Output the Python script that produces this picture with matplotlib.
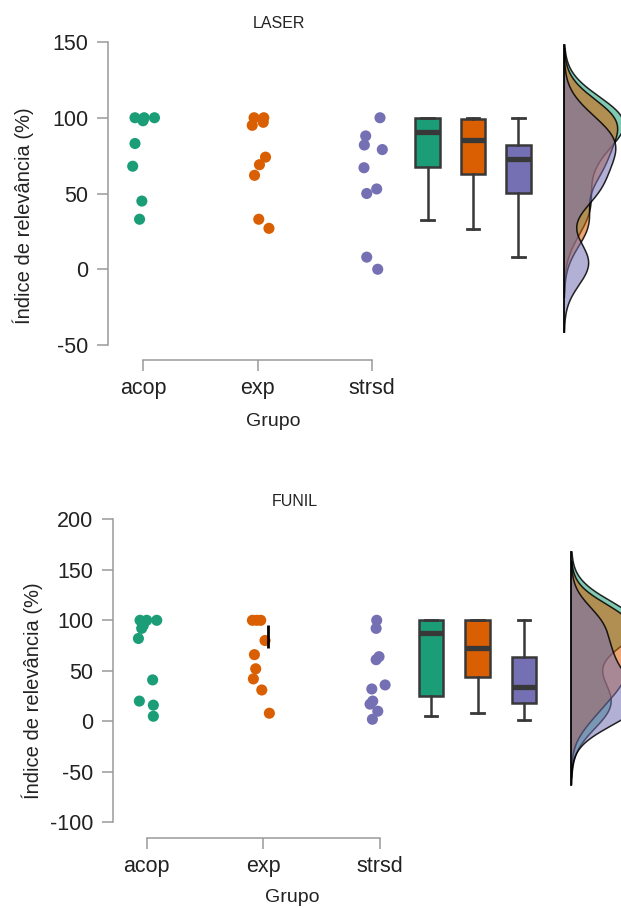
"""Raincloud-style charts (LASER / FUNIL) of relevance index per group."""

import numpy as np
import matplotlib

matplotlib.use("Agg")
import matplotlib.pyplot as plt

plt.rcParams["font.family"] = ["Liberation Sans", "DejaVu Sans"]

W, H = 621, 908
TEXT = "#222222"
SPINE = "#9a9a9a"
EDGE = "#383838"

GROUPS = ["acop", "exp", "strsd"]
COLORS = ["#1B9E77", "#D95F02", "#7570B3"]

# LASER: raw values per group
laser_acop = [100, 100, 100, 98, 83, 68, 45, 33]
laser_exp = [100, 100, 97, 95, 74, 69, 62, 33, 27]
laser_strsd = [100, 88, 82, 79, 67, 53, 50, 8, 0]
# horizontal jitter of each dot (category units)
laser_jit_acop = [-0.07, 0.01, 0.10, 0.00, -0.07, -0.09, -0.01, -0.03]
laser_jit_exp = [-0.03, 0.055, 0.05, -0.046, 0.07, 0.017, -0.026, 0.011, 0.10]
laser_jit_strsd = [0.07, -0.055, -0.067, 0.09, -0.07, 0.041, -0.046, -0.046, 0.05]
# LASER: box statistics
laser_lo = [32.4, 26.6, 8.1]
laser_q1 = [67.8, 63.0, 50.4]
laser_med = [90.6, 85.0, 73.0]
laser_q3 = [100.0, 99.5, 82.0]
laser_hi = [100.0, 100.0, 100.0]

# FUNIL: raw values per group
funil_acop = [100, 100, 100, 95, 92, 82, 41, 20, 16, 5]
funil_exp = [100, 100, 100, 80, 66, 52, 42, 31, 8]
funil_strsd = [100, 92, 64, 61, 36, 32, 20, 17, 10, 2]
funil_jit_acop = [-0.057, 0.0, 0.086, -0.029, -0.043, -0.071, 0.051, -0.063, 0.057, 0.057]
funil_jit_exp = [-0.094, -0.057, -0.023, 0.014, -0.077, -0.066, -0.086, -0.014, 0.051]
funil_jit_strsd = [-0.029, -0.034, -0.009, -0.034, 0.043, -0.071, -0.063, -0.086, -0.02, -0.066]
funil_lo = [5.2, 8.0, 1.3]
funil_q1 = [25.3, 44.2, 17.8]
funil_med = [87.7, 72.9, 34.3]
funil_q3 = [100.0, 100.0, 64.0]
funil_hi = [100.0, 100.0, 100.0]
# stray vertical mark next to the exp dots
funil_mark = (72.3, 95.4)


def kde(vals):
    """Gaussian density with R's nrd0 bandwidth, cut at 3 bandwidths."""
    v = np.asarray(vals, float)
    n = len(v)
    q75, q25 = np.percentile(v, [75, 25])
    bw = 0.9 * min(v.std(ddof=1), (q75 - q25) / 1.34) * n ** -0.2
    grid = np.linspace(v.min() - 3 * bw, v.max() + 3 * bw, 300)
    z = (grid[:, None] - v[None, :]) / bw
    dens = np.exp(-0.5 * z ** 2).sum(1) / (n * bw * np.sqrt(2 * np.pi))
    return grid, dens


def panel(rect, data, jit, stats, ylim, yticks, xlim, box_pos, box_w,
          dens_base, dens_w, x_off):
    ax = fig.add_axes(rect)
    ax.set_xlim(*xlim)
    ax.set_ylim(*ylim)

    # dots
    for i, (vals, jj) in enumerate(zip(data, jit)):
        ax.scatter(np.full(len(vals), i) + np.asarray(jj), vals, s=64,
                   color=COLORS[i], edgecolors="none", zorder=3, clip_on=False)

    # boxes
    lo, q1, med, q3, hi = stats
    bstats = [dict(whislo=lo[i], q1=q1[i], med=med[i], q3=q3[i], whishi=hi[i],
                   fliers=[]) for i in range(3)]
    bp = ax.bxp(bstats, positions=box_pos, widths=box_w, capwidths=box_w * 0.5,
                patch_artist=True, showfliers=False, manage_ticks=False,
                boxprops=dict(edgecolor=EDGE, linewidth=1.8),
                whiskerprops=dict(color=EDGE, linewidth=1.8),
                capprops=dict(color=EDGE, linewidth=2.0),
                medianprops=dict(color=EDGE, linewidth=3.8, solid_capstyle="butt"))
    for patch, c in zip(bp["boxes"], COLORS):
        patch.set_facecolor(c)

    # densities
    curves = [kde(v) for v in data]
    peak = max(d.max() for _, d in curves)
    for (g, d), c in zip(curves, COLORS):
        ax.fill_betweenx(g, dens_base, dens_base + d / peak * dens_w,
                         facecolor=c, alpha=0.55, edgecolor="none", zorder=2)
        ax.plot(dens_base + d / peak * dens_w, g, color="black", lw=1.1,
                alpha=0.85, zorder=2)
    gmin = min(g.min() for g, _ in curves)
    gmax = max(g.max() for g, _ in curves)
    ax.plot([dens_base, dens_base], [gmin, gmax], color="black", lw=1.3, zorder=2)

    # axes styling
    for s in ("top", "right"):
        ax.spines[s].set_visible(False)
    for s in ("left", "bottom"):
        ax.spines[s].set_color(SPINE)
        ax.spines[s].set_linewidth(1.1)
    ax.spines["bottom"].set_position(("outward", x_off))
    ax.spines["bottom"].set_bounds(0, 2)
    ax.spines["left"].set_bounds(yticks[0], yticks[-1])
    ax.set_yticks(yticks)
    ax.set_yticklabels([str(t) for t in yticks])
    ax.set_xticks(range(3))
    ax.set_xticklabels(GROUPS)
    ax.tick_params(axis="both", colors=SPINE, labelcolor=TEXT, labelsize=15.5,
                   length=8, width=1.1)
    ax.tick_params(axis="y", pad=6)
    ax.tick_params(axis="x", pad=5)
    ax.patch.set_alpha(0)
    return ax


def frac(x0, y_top, x1, y_bot):
    return [x0 / W, 1 - y_bot / H, (x1 - x0) / W, (y_bot - y_top) / H]


fig = plt.figure(figsize=(W / 100, H / 100), dpi=100)

# LASER
u = 114.5
panel(frac(108, 42, 621, 345),
      [laser_acop, laser_exp, laser_strsd],
      [laser_jit_acop, laser_jit_exp, laser_jit_strsd],
      (laser_lo, laser_q1, laser_med, laser_q3, laser_hi),
      (-50, 150), [-50, 0, 50, 100, 150],
      ((108 - 143) / u, (621 - 143) / u),
      [2.485, 2.882, 3.278], 0.218, 3.68, 0.52, 10.8)
fig.text(279 / W, 1 - 23 / H, "LASER", ha="center", va="center",
         fontsize=11.5, color=TEXT)
fig.text(273 / W, 1 - 422 / H, "Grupo", ha="center", va="center",
         fontsize=14, color=TEXT)
fig.text(23 / W, 1 - 216 / H, "Índice de relevância (%)", ha="center",
         va="center", rotation=90, fontsize=14.5, color=TEXT)

# FUNIL
u = 116.7
ax2 = panel(frac(113, 519.3, 621, 822.3),
            [funil_acop, funil_exp, funil_strsd],
            [funil_jit_acop, funil_jit_exp, funil_jit_strsd],
            (funil_lo, funil_q1, funil_med, funil_q3, funil_hi),
            (-100, 200), [-100, -50, 0, 50, 100, 150, 200],
            ((113 - 146.7) / u, (621 - 146.7) / u),
            [2.435, 2.835, 3.235], 0.208, 3.64, 0.6, 11.3)
ax2.vlines(1.037, *funil_mark, color="black", lw=2, zorder=4)
fig.text(295 / W, 1 - 501 / H, "FUNIL", ha="center", va="center",
         fontsize=11.5, color=TEXT)
fig.text(292 / W, 1 - 898 / H, "Grupo", ha="center", va="center",
         fontsize=14, color=TEXT)
fig.text(32 / W, 1 - 691 / H, "Índice de relevância (%)", ha="center",
         va="center", rotation=90, fontsize=14.5, color=TEXT)

fig.savefig("out.png", dpi=100)
plt.close(fig)
